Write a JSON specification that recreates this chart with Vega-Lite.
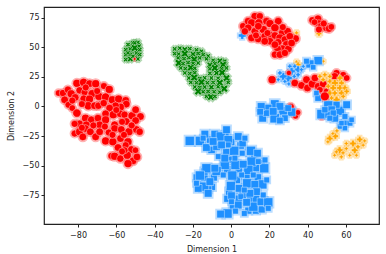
{"$schema":"https://vega.github.io/schema/vega-lite/v6.json","width":335,"height":217,"autosize":{"type":"none"},"padding":{"left":44,"top":7,"right":7,"bottom":30},"background":"white","config":{"view":{"stroke":"#222","strokeWidth":1.2},"font":"DejaVu Sans"},"data":{"values":[
{"a":-53.9,"b":52.3,"g":"C","w":1.2},{"a":-51.3,"b":53.7,"g":"C","w":1.2},{"a":-48.7,"b":54.2,"g":"C","w":1.2},{"a":-55.1,"b":48,"g":"C","w":1.2},{"a":-52.7,"b":48.6,"g":"C","w":1.2},{"a":-50.4,"b":49.4,"g":"C","w":2},{"a":-48.1,"b":50.9,"g":"C","w":1.2},{"a":-55.1,"b":43.8,"g":"C","w":1.2},{"a":-52.7,"b":43.8,"g":"C","w":1.2},{"a":-49.5,"b":45.2,"g":"C","w":1.2},{"a":-47.8,"b":43.8,"g":"C","w":1.2},{"a":-55.1,"b":39.6,"g":"C","w":1.2},{"a":-52.7,"b":40.1,"g":"C","w":1.5},{"a":-48.7,"b":40.1,"g":"C","w":1.2},{"a":-50.4,"b":53.7,"g":"C","w":1.2},{"a":-53.9,"b":45.2,"g":"C","w":1.2},{"a":-51.3,"b":42.4,"g":"C","w":1.2},{"a":-47.8,"b":48,"g":"C","w":1.2},{"a":-50.4,"b":40.1,"g":"A","w":1},
{"a":-29.5,"b":48.6,"g":"C","w":1.2},{"a":-26.8,"b":49.2,"g":"C","w":1.2},{"a":-24.2,"b":48.2,"g":"C","w":1.5},{"a":-21.6,"b":48.8,"g":"C","w":1.2},{"a":-18.1,"b":47.8,"g":"C","w":1.2},{"a":-15.5,"b":46.6,"g":"C","w":1.2},{"a":-29.5,"b":44.6,"g":"C","w":1.2},{"a":-27.4,"b":44.2,"g":"C","w":1.2},{"a":-24.2,"b":44.6,"g":"C","w":2},{"a":-19.9,"b":44.2,"g":"C","w":1.5},{"a":-17.2,"b":44.8,"g":"C","w":1.2},{"a":-14.6,"b":43.8,"g":"C","w":1.2},{"a":-12,"b":42.6,"g":"C","w":1.2},{"a":-27.7,"b":41,"g":"C","w":1.2},{"a":-24.6,"b":40.4,"g":"C","w":1.2},{"a":-22.1,"b":41.2,"g":"C","w":1.2},{"a":-19.3,"b":39.8,"g":"C","w":2},{"a":-16.4,"b":41,"g":"C","w":1.2},{"a":-12.9,"b":40.2,"g":"C","w":1.2},{"a":-9.4,"b":39,"g":"C","w":1.2},{"a":-5.9,"b":38.6,"g":"C","w":1.5},{"a":-3.3,"b":38.2,"g":"C","w":1.2},{"a":-27.4,"b":36.7,"g":"C","w":2},{"a":-25.1,"b":36.2,"g":"C","w":1.2},{"a":-22.5,"b":37,"g":"C","w":1.2},{"a":-19.9,"b":36.4,"g":"C","w":1.2},{"a":-17.2,"b":36.7,"g":"C","w":1.2},{"a":-11.1,"b":35,"g":"C","w":1.5},{"a":-8.5,"b":36.2,"g":"C","w":1.2},{"a":-4.2,"b":35.2,"g":"C","w":1.9},{"a":-26.3,"b":32.5,"g":"C","w":1.2},{"a":-23.9,"b":32,"g":"C","w":1.2},{"a":-21.1,"b":32.8,"g":"C","w":1.9},{"a":-19,"b":32.2,"g":"C","w":1.2},{"a":-11.1,"b":31.8,"g":"C","w":1.2},{"a":-8.5,"b":32.5,"g":"C","w":2},{"a":-5,"b":31.8,"g":"C","w":1.2},{"a":-2.4,"b":32.5,"g":"C","w":1.2},{"a":-24.2,"b":28.3,"g":"C","w":1.2},{"a":-21.6,"b":27.8,"g":"C","w":1.2},{"a":-19,"b":28.5,"g":"C","w":1.2},{"a":-11.1,"b":28,"g":"C","w":1.2},{"a":-7.6,"b":28.3,"g":"C","w":1.5},{"a":-4.7,"b":28.6,"g":"C","w":2},{"a":-22.1,"b":24,"g":"C","w":1.2},{"a":-19.3,"b":24.4,"g":"C","w":2},{"a":-16.4,"b":23.6,"g":"C","w":1.2},{"a":-13.8,"b":24.2,"g":"C","w":1.2},{"a":-10.3,"b":24,"g":"C","w":1.2},{"a":-6.8,"b":23.8,"g":"C","w":1.2},{"a":-2.4,"b":24,"g":"C","w":1.9},{"a":-21.1,"b":20.3,"g":"C","w":1.2},{"a":-18.1,"b":20,"g":"C","w":1.2},{"a":-15.5,"b":20.5,"g":"C","w":2},{"a":-12.4,"b":20,"g":"C","w":1.2},{"a":-9.4,"b":20.3,"g":"C","w":1.2},{"a":-5.9,"b":20,"g":"C","w":2},{"a":-1.5,"b":20.3,"g":"C","w":1.2},{"a":-19,"b":16.4,"g":"C","w":1.2},{"a":-16.4,"b":16,"g":"C","w":1.2},{"a":-13.8,"b":16.4,"g":"C","w":1.2},{"a":-10.3,"b":16.2,"g":"C","w":1.5},{"a":-6.8,"b":16.6,"g":"C","w":1.2},{"a":-3.6,"b":15,"g":"C","w":2},{"a":-17.2,"b":12.7,"g":"C","w":2},{"a":-14.6,"b":12.4,"g":"C","w":1.2},{"a":-12,"b":12.7,"g":"C","w":1.2},{"a":-8.9,"b":12.4,"g":"C","w":1.2},{"a":-5.9,"b":12,"g":"C","w":1.2},{"a":-12.9,"b":8.5,"g":"C","w":1.2},{"a":-10.6,"b":8,"g":"C","w":1.9},{"a":-8.5,"b":8.5,"g":"C","w":1.2},
{"a":-90.2,"b":11.3,"g":"A","w":2.4},{"a":-87.9,"b":11.3,"g":"A","w":2.8},{"a":-85.3,"b":14.1,"g":"A","w":2.8},{"a":-83.6,"b":10.7,"g":"A","w":3.2},{"a":-80.6,"b":19.5,"g":"A","w":3.2},{"a":-77.1,"b":20.3,"g":"A","w":3.4},{"a":-74,"b":19.2,"g":"A","w":3},{"a":-70.8,"b":19.2,"g":"A","w":3.2},{"a":-66.5,"b":17.2,"g":"A","w":2.6},{"a":-63.7,"b":14.4,"g":"A","w":3.2},{"a":-79.2,"b":13.6,"g":"A","w":2.8},{"a":-76.6,"b":11.9,"g":"A","w":2.6},{"a":-72.6,"b":10.7,"g":"A","w":3.4},{"a":-69.1,"b":8.5,"g":"A","w":3.2},{"a":-65.6,"b":7.9,"g":"A","w":3.4},{"a":-81.5,"b":7.6,"g":"A","w":3},{"a":-87,"b":5.6,"g":"A","w":3},{"a":-85,"b":1.4,"g":"A","w":2.6},{"a":-83,"b":-1.4,"g":"A","w":2.4},{"a":-80.6,"b":-5.6,"g":"A","w":3.4},{"a":-77,"b":6.5,"g":"A","w":3},{"a":-74,"b":6.2,"g":"A","w":3.2},{"a":-74.7,"b":0.6,"g":"A","w":3.4},{"a":-71.4,"b":0.6,"g":"A","w":3},{"a":-69.4,"b":0.6,"g":"A","w":2.8},{"a":-66.6,"b":2.8,"g":"A","w":2.8},{"a":-62.1,"b":5.6,"g":"A","w":3.2},{"a":-58.8,"b":6.2,"g":"A","w":3.2},{"a":-55.1,"b":5.1,"g":"A","w":3},{"a":-54.8,"b":2,"g":"A","w":3},{"a":-57.9,"b":-0.6,"g":"A","w":3.2},{"a":-60.4,"b":0.6,"g":"A","w":3},{"a":-63.5,"b":-1.4,"g":"A","w":3},{"a":-65.6,"b":-6.2,"g":"A","w":3},{"a":-61.6,"b":-7,"g":"A","w":3.2},{"a":-57.9,"b":-6.2,"g":"A","w":3},{"a":-55.7,"b":-7,"g":"A","w":2.8},{"a":-51.8,"b":-7.9,"g":"A","w":3.2},{"a":-49.9,"b":-2.8,"g":"A","w":3},{"a":-47.4,"b":-8.5,"g":"A","w":3},{"a":-76.1,"b":-9.9,"g":"A","w":3.2},{"a":-73.1,"b":-11.3,"g":"A","w":3},{"a":-69.6,"b":-9.9,"g":"A","w":3},{"a":-65.6,"b":-11.3,"g":"A","w":3.2},{"a":-68.7,"b":-15.5,"g":"A","w":3},{"a":-79.2,"b":-14.7,"g":"A","w":3},{"a":-81.8,"b":-14.7,"g":"A","w":2.6},{"a":-54.8,"b":-12.7,"g":"A","w":3},{"a":-49.9,"b":-11.9,"g":"A","w":3},{"a":-60.9,"b":-15.5,"g":"A","w":3},{"a":-75.7,"b":-15.5,"g":"A","w":3},{"a":-81.8,"b":-22.9,"g":"A","w":2.6},{"a":-79.2,"b":-21.4,"g":"A","w":3.2},{"a":-76.2,"b":-18.6,"g":"A","w":3},{"a":-73.6,"b":-21.4,"g":"A","w":3},{"a":-70.8,"b":-25.7,"g":"A","w":3},{"a":-68.7,"b":-21.4,"g":"A","w":3},{"a":-65.6,"b":-29.1,"g":"A","w":3.2},{"a":-61.8,"b":-29.9,"g":"A","w":3.2},{"a":-59.1,"b":-34.7,"g":"A","w":3},{"a":-57.8,"b":-27.1,"g":"A","w":3},{"a":-60.9,"b":-18.6,"g":"A","w":3},{"a":-57.4,"b":-19.5,"g":"A","w":3},{"a":-53.4,"b":-21.4,"g":"A","w":3.2},{"a":-49.5,"b":-19.5,"g":"A","w":3},{"a":-47.8,"b":-21.4,"g":"A","w":2.8},{"a":-53.9,"b":-29.9,"g":"A","w":3.2},{"a":-52.2,"b":-36.4,"g":"A","w":3},{"a":-55.1,"b":-32.7,"g":"A","w":2.6},{"a":-62.6,"b":-41.8,"g":"A","w":2.6},{"a":-60.9,"b":-42.1,"g":"A","w":3.2},{"a":-57.9,"b":-44,"g":"A","w":2.8},{"a":-54.3,"b":-41.2,"g":"A","w":3.2},{"a":-51.3,"b":-46,"g":"A","w":3},{"a":-53.9,"b":-48.3,"g":"A","w":3.2},{"a":-49.2,"b":-42.6,"g":"A","w":3},{"a":-55.7,"b":-37,"g":"A","w":2.6},{"a":-77.5,"b":-25.7,"g":"A","w":3},{"a":-83,"b":5,"g":"A","w":2.6},{"a":-78,"b":2,"g":"A","w":2.6},{"a":-70,"b":13,"g":"A","w":2.6},{"a":-76,"b":16,"g":"A","w":2.6},{"a":-60,"b":-3,"g":"A","w":2.6},{"a":-56,"b":-24,"g":"A","w":2.6},{"a":-52,"b":-16,"g":"A","w":2.6},{"a":-64,"b":-22,"g":"A","w":2.6},{"a":-72,"b":-16,"g":"A","w":2.6},{"a":-78,"b":-18,"g":"A","w":2.6},{"a":-66,"b":-17,"g":"A","w":2.6},{"a":-57,"b":-13,"g":"A","w":2.6},{"a":-62,"b":-24,"g":"A","w":2.6},{"a":-57,"b":-38,"g":"A","w":2.6},{"a":-50,"b":-37,"g":"A","w":2.4},
{"a":34.2,"b":62.1,"g":"D","w":1.4},{"a":45.9,"b":61.6,"g":"D","w":1.9},{"a":5.8,"b":59.9,"g":"E","w":3},
{"a":6.3,"b":67.8,"g":"A","w":2.8},{"a":8.9,"b":72,"g":"A","w":3},{"a":12.4,"b":76.2,"g":"A","w":3},{"a":15,"b":76.2,"g":"A","w":2.8},{"a":10.7,"b":70.6,"g":"A","w":3.2},{"a":14.5,"b":70.6,"g":"A","w":3.4},{"a":18.5,"b":72,"g":"A","w":3},{"a":24.6,"b":72,"g":"A","w":3},{"a":20.3,"b":70,"g":"A","w":3.2},{"a":8.9,"b":66.4,"g":"A","w":3},{"a":12.4,"b":63.5,"g":"A","w":3},{"a":16.8,"b":65,"g":"A","w":3.2},{"a":14.2,"b":67.8,"g":"A","w":3},{"a":22.9,"b":66.4,"g":"A","w":3.4},{"a":26.7,"b":62.1,"g":"A","w":3},{"a":29.5,"b":63.5,"g":"A","w":3},{"a":10.7,"b":57.9,"g":"A","w":3},{"a":14.2,"b":57,"g":"A","w":3},{"a":17.6,"b":59.3,"g":"A","w":3},{"a":21.1,"b":59.9,"g":"A","w":3.2},{"a":22.9,"b":59.9,"g":"A","w":3},{"a":25.5,"b":57.9,"g":"A","w":3.2},{"a":28.1,"b":56.5,"g":"A","w":3},{"a":24.6,"b":54.2,"g":"A","w":3},{"a":33.7,"b":57.3,"g":"A","w":3},{"a":30.7,"b":59.3,"g":"A","w":3},{"a":29,"b":52.2,"g":"A","w":3.2},{"a":20.3,"b":55.1,"g":"A","w":3},{"a":17.6,"b":55.1,"g":"A","w":3},{"a":26.7,"b":48.6,"g":"A","w":3.2},{"a":24.3,"b":48.6,"g":"A","w":3},{"a":22.9,"b":43.8,"g":"A","w":2.8},{"a":25.5,"b":43.8,"g":"A","w":3},{"a":29.9,"b":48.6,"g":"A","w":3},{"a":31.6,"b":53.6,"g":"A","w":3},{"a":7.2,"b":63.5,"g":"A","w":2.8},{"a":22.9,"b":52.2,"g":"A","w":3},{"a":28.1,"b":45.2,"g":"A","w":2.8},{"a":19,"b":62,"g":"A","w":2.6},{"a":27,"b":67,"g":"A","w":2.6},{"a":13,"b":60,"g":"A","w":2.6},
{"a":42.4,"b":72.9,"g":"A","w":2.6},{"a":45.4,"b":74,"g":"A","w":3},{"a":45.9,"b":70,"g":"A","w":3},{"a":47.1,"b":67.8,"g":"A","w":3},{"a":49.8,"b":66.4,"g":"A","w":3},{"a":51.2,"b":65.8,"g":"A","w":3},{"a":45.9,"b":65,"g":"A","w":2.6},{"a":43.6,"b":71.2,"g":"A","w":2.4},{"a":48.4,"b":70,"g":"A","w":2.6},{"a":52.4,"b":67.2,"g":"A","w":2.4},
{"a":34.2,"b":37.6,"g":"D","w":1.3},{"a":35,"b":35.3,"g":"D","w":1.9},{"a":48.1,"b":38.2,"g":"D","w":1.3},
{"a":45.5,"b":38.7,"g":"B","w":3.4},{"a":41.2,"b":35.9,"g":"B","w":3.2},{"a":39.4,"b":38.2,"g":"B","w":2},{"a":42.9,"b":33.1,"g":"B","w":1.8},
{"a":30.7,"b":33.9,"g":"E","w":1.6},{"a":33.3,"b":33.9,"g":"E","w":1.6},{"a":35,"b":31.1,"g":"E","w":2.8},{"a":33,"b":25.4,"g":"E","w":1.6},{"a":29.8,"b":24,"g":"E","w":3.2},{"a":27.2,"b":25.4,"g":"E","w":3},{"a":25.5,"b":28.3,"g":"E","w":1.6},{"a":28.1,"b":21.2,"g":"E","w":1.4},{"a":24.6,"b":22.6,"g":"E","w":1.4},{"a":36.8,"b":31.1,"g":"E","w":1.5},{"a":35,"b":26.8,"g":"E","w":1.6},{"a":31.6,"b":29.7,"g":"E","w":2.8},{"a":37.7,"b":33.9,"g":"E","w":1.4},{"a":30.2,"b":19,"g":"E","w":1.4},
{"a":21.4,"b":22.6,"g":"A","w":3.2},{"a":30.2,"b":28.3,"g":"A","w":1.8},{"a":33.3,"b":19.8,"g":"A","w":3},{"a":36.8,"b":17.8,"g":"A","w":3},{"a":39.4,"b":22.6,"g":"A","w":3},{"a":39.9,"b":15.6,"g":"A","w":3},{"a":42.4,"b":19,"g":"A","w":3.2},{"a":45.5,"b":17,"g":"A","w":3},{"a":48.1,"b":19,"g":"A","w":3},{"a":43.8,"b":24,"g":"A","w":3},{"a":46.4,"b":14.1,"g":"A","w":2.4},{"a":49.9,"b":12.7,"g":"A","w":2.4},{"a":55.1,"b":28.3,"g":"A","w":2.6},{"a":54.2,"b":25.4,"g":"A","w":3},{"a":58.6,"b":26.8,"g":"A","w":2.4},{"a":60.4,"b":24,"g":"A","w":2.4},
{"a":46.4,"b":25.4,"g":"D","w":1.6},{"a":49,"b":26.8,"g":"D","w":1.6},{"a":51.6,"b":25.4,"g":"D","w":1.6},{"a":56.9,"b":24,"g":"D","w":2.2},{"a":48.1,"b":22.6,"g":"D","w":1.6},{"a":51.6,"b":21.2,"g":"D","w":1.8},{"a":54.2,"b":19.8,"g":"D","w":2.6},{"a":57.7,"b":19.8,"g":"D","w":2},{"a":50.8,"b":17,"g":"D","w":1.8},{"a":53.4,"b":15.6,"g":"D","w":2.4},{"a":56.9,"b":15.6,"g":"D","w":2.4},{"a":59.5,"b":15.6,"g":"D","w":2},{"a":51.6,"b":11.3,"g":"D","w":2.2},{"a":54.2,"b":11.3,"g":"D","w":2},{"a":57.7,"b":11.3,"g":"D","w":2.2},{"a":60.4,"b":12.7,"g":"D","w":1.8},{"a":55.1,"b":5.7,"g":"D","w":2.6},{"a":52.5,"b":7.1,"g":"D","w":1.6},{"a":58.6,"b":8.5,"g":"D","w":1.6},
{"a":45.5,"b":7.1,"g":"B","w":2.4},{"a":44.6,"b":11.3,"g":"B","w":1.8},{"a":47.3,"b":-8.5,"g":"A","w":2.2},{"a":50.8,"b":0.9,"g":"B","w":4},{"a":47.3,"b":-6.5,"g":"B","w":4.2},{"a":56.9,"b":-3.7,"g":"B","w":4},{"a":60.4,"b":1.4,"g":"B","w":3},{"a":55.1,"b":1.4,"g":"B","w":2.6},{"a":52.5,"b":-2.8,"g":"B","w":3},{"a":50.8,"b":-7,"g":"B","w":2.6},{"a":54.2,"b":-9.9,"g":"B","w":3},{"a":59.5,"b":-14.1,"g":"B","w":2},{"a":56.9,"b":-16.9,"g":"B","w":1.8},{"a":62.1,"b":-14.1,"g":"B","w":2},{"a":59.5,"b":-18.3,"g":"B","w":1.8},{"a":57.7,"b":-14.1,"g":"B","w":1.8},{"a":63,"b":-11.3,"g":"B","w":1.8},{"a":53.4,"b":-5.6,"g":"B","w":2.2},{"a":49,"b":-2.8,"g":"B","w":2.2},{"a":59.5,"b":-8.5,"g":"B","w":2},{"a":51.6,"b":-9.9,"g":"B","w":2},{"a":49,"b":8.5,"g":"A","w":3.8},
{"a":31.1,"b":-0.6,"g":"A","w":3},{"a":32.3,"b":-5.6,"g":"A","w":2.2},{"a":33.7,"b":-8,"g":"A","w":2.2},{"a":34.9,"b":-5.1,"g":"A","w":2},
{"a":22.8,"b":2,"g":"B","w":3.6},{"a":27.2,"b":-3.7,"g":"B","w":3.6},{"a":22.8,"b":-9.9,"g":"B","w":4.2},{"a":31.6,"b":-4.8,"g":"B","w":3.4},{"a":19.3,"b":-1.4,"g":"B","w":3},{"a":16.5,"b":-9.9,"g":"B","w":3},{"a":25.5,"b":0,"g":"B","w":3},{"a":28.1,"b":-9.9,"g":"B","w":2.4},{"a":18.5,"b":-5.6,"g":"B","w":2.4},{"a":25.5,"b":-11.9,"g":"B","w":2.4},{"a":29.8,"b":-1.4,"g":"B","w":2.4},{"a":22,"b":-4.2,"g":"B","w":3},{"a":15.7,"b":0,"g":"B","w":3},{"a":15.2,"b":-4.5,"g":"B","w":2.4},
{"a":51.5,"b":-27.1,"g":"D","w":2.4},{"a":54.5,"b":-25.1,"g":"D","w":2.2},{"a":53.2,"b":-22.9,"g":"D","w":1.3},{"a":55.3,"b":-20.6,"g":"D","w":1.4},{"a":50.6,"b":-29.9,"g":"D","w":1.3},{"a":56.7,"b":-37,"g":"D","w":2.6},{"a":58.5,"b":-39.2,"g":"D","w":1.4},{"a":55,"b":-38.4,"g":"D","w":1.4},{"a":60.2,"b":-35.6,"g":"D","w":1.4},{"a":57.6,"b":-42.6,"g":"D","w":1.4},{"a":54.1,"b":-41.2,"g":"D","w":1.3},{"a":64.6,"b":-37,"g":"D","w":2.4},{"a":63.7,"b":-31.3,"g":"D","w":2.4},{"a":67.2,"b":-27.9,"g":"D","w":2.2},{"a":69.8,"b":-29.1,"g":"D","w":1.3},{"a":62,"b":-41.2,"g":"D","w":1.3},{"a":65.5,"b":-41.2,"g":"D","w":1.3},{"a":69,"b":-32.7,"g":"D","w":1.3},{"a":60.2,"b":-31.3,"g":"D","w":1.4},{"a":66.3,"b":-34.1,"g":"D","w":1.6},
{"a":-10.2,"b":-36.7,"g":"B","w":2.8},{"a":-1,"b":-45,"g":"B","w":2.8},{"a":5,"b":-33,"g":"B","w":2.8},{"a":12,"b":-43,"g":"B","w":2.8},{"a":16,"b":-48,"g":"B","w":2.8},{"a":-9,"b":-60,"g":"B","w":2.6},{"a":-2,"b":-53,"g":"B","w":2.8},{"a":4,"b":-53,"g":"B","w":2.8},{"a":13,"b":-52,"g":"B","w":2.8},{"a":-14,"b":-60,"g":"B","w":2.8},{"a":-18,"b":-60,"g":"B","w":2.6},{"a":-10,"b":-68,"g":"B","w":2.6},{"a":3,"b":-62,"g":"B","w":2.8},{"a":8,"b":-58,"g":"B","w":2.8},{"a":14,"b":-60,"g":"B","w":2.8},{"a":6,"b":-75,"g":"B","w":2.8},{"a":10,"b":-78,"g":"B","w":2.8},{"a":13,"b":-78,"g":"B","w":2.8},{"a":-1,"b":-72,"g":"B","w":2.8},{"a":-2,"b":-78,"g":"B","w":2.6},{"a":4,"b":-78,"g":"B","w":2.8},{"a":17,"b":-80,"g":"B","w":2.8},{"a":1,"b":-86,"g":"B","w":2.8},{"a":-14,"b":-55,"g":"B","w":2.8},{"a":-12,"b":-70,"g":"B","w":2.6},{"a":9,"b":-88,"g":"B","w":2.6},{"a":13,"b":-88,"g":"B","w":2.6},{"a":16,"b":-87,"g":"B","w":2.6},{"a":-3,"b":-24,"g":"B","w":2.8},{"a":0,"b":-30,"g":"B","w":2.8},{"a":6,"b":-31,"g":"B","w":2.8},{"a":-11,"b":-28,"g":"B","w":2.8},
{"a":-21.6,"b":-29.1,"g":"B","w":4},{"a":-16.3,"b":-29.1,"g":"B","w":4},{"a":-12.9,"b":-34.7,"g":"B","w":3},{"a":-13.7,"b":-23.4,"g":"B","w":3},{"a":-8.5,"b":-23.4,"g":"B","w":3},{"a":-5.4,"b":-25.4,"g":"B","w":4},{"a":-1.5,"b":-28.2,"g":"B","w":3.6},{"a":-2.4,"b":-19.7,"g":"B","w":3},{"a":3.7,"b":-25.4,"g":"B","w":3},{"a":7.2,"b":-26.8,"g":"B","w":2},{"a":-7.6,"b":-33.9,"g":"B","w":3},{"a":-2.4,"b":-38.7,"g":"B","w":3},{"a":1.6,"b":-37.5,"g":"B","w":4},{"a":10.4,"b":-37.5,"g":"B","w":4},{"a":5.8,"b":-39.5,"g":"B","w":2},{"a":13.8,"b":-39.5,"g":"B","w":3},{"a":10.7,"b":-46.6,"g":"B","w":4},{"a":17.7,"b":-45.2,"g":"B","w":2},{"a":17.3,"b":-52.2,"g":"B","w":4},{"a":9,"b":-53.6,"g":"B","w":4},{"a":-3.3,"b":-49.4,"g":"B","w":4},{"a":2.3,"b":-49.4,"g":"B","w":4},{"a":6.3,"b":-48.8,"g":"B","w":3},{"a":-6.7,"b":-42.3,"g":"B","w":2},{"a":-3.3,"b":-43.7,"g":"B","w":3},{"a":-12.9,"b":-52.2,"g":"B","w":4},{"a":-7.6,"b":-54.5,"g":"B","w":4},{"a":0.6,"b":-58.4,"g":"B","w":4},{"a":-4.1,"b":-57.9,"g":"B","w":2},{"a":-16.3,"b":-58.4,"g":"B","w":4},{"a":-14.1,"b":-67.8,"g":"B","w":4},{"a":-17.2,"b":-69.2,"g":"B","w":3},{"a":-12,"b":-73.4,"g":"B","w":3},{"a":-11.1,"b":-63.5,"g":"B","w":3},{"a":-0.1,"b":-67.2,"g":"B","w":4},{"a":4.2,"b":-69.2,"g":"B","w":3},{"a":8.4,"b":-64.9,"g":"B","w":4},{"a":16.3,"b":-65.8,"g":"B","w":4},{"a":18.6,"b":-62.1,"g":"B","w":2},{"a":12.4,"b":-65.8,"g":"B","w":3},{"a":13.3,"b":-72,"g":"B","w":3},{"a":9.8,"b":-73.4,"g":"B","w":3},{"a":5.1,"b":-76.2,"g":"B","w":2},{"a":0.2,"b":-75.4,"g":"B","w":3},{"a":3.7,"b":-83.3,"g":"B","w":3},{"a":11.6,"b":-84.7,"g":"B","w":4},{"a":15.6,"b":-80.5,"g":"B","w":3},{"a":19.4,"b":-81,"g":"B","w":4},{"a":19.4,"b":-86.1,"g":"B","w":2},{"a":6.9,"b":-90.4,"g":"B","w":2},{"a":2.3,"b":-88.4,"g":"B","w":2},{"a":-1.9,"b":-90.4,"g":"B","w":4},{"a":-5.5,"b":-90.9,"g":"B","w":3},{"a":8.1,"b":-81,"g":"B","w":3},{"a":0.2,"b":-80.5,"g":"B","w":2},{"a":-18.1,"b":-64.9,"g":"B","w":2},{"a":-8.5,"b":-52.2,"g":"B","w":3},{"a":5.5,"b":-57.9,"g":"B","w":2},{"a":-1.5,"b":-32.5,"g":"B","w":2},{"a":-14.6,"b":-26.8,"g":"B","w":2},{"a":-9.4,"b":-29.6,"g":"B","w":3},{"a":-5,"b":-32.5,"g":"B","w":3},{"a":2,"b":-43.7,"g":"B","w":2},{"a":14.2,"b":-46.6,"g":"B","w":2},{"a":11.6,"b":-57.9,"g":"B","w":2},{"a":6.9,"b":-70.6,"g":"B","w":2},{"a":16.8,"b":-74.8,"g":"B","w":2}
]},"encoding":{"x":{"field":"a","type":"quantitative","scale":{"domain":[-97.8,77.3],"nice":false,"zero":false},"axis":{"values":[-80,-60,-40,-20,0,20,40,60],"title":"Dimension 1","grid":false,"domain":false,"tickColor":"#222","tickSize":3,"labelFontSize":8,"labelColor":"#222","labelPadding":4,"titleFontSize":8,"titleFontWeight":"normal","titleColor":"#222","titlePadding":6}},"y":{"field":"b","type":"quantitative","scale":{"domain":[-99.3,84],"nice":false,"zero":false},"axis":{"values":[-75,-50,-25,0,25,50,75],"title":"Dimension 2","grid":false,"domain":false,"tickColor":"#222","tickSize":3,"labelFontSize":8,"labelColor":"#222","labelPadding":2,"titleFontSize":8,"titleFontWeight":"normal","titleColor":"#222","titlePadding":7}},"shape":{"field":"g","type":"nominal","legend":null,"scale":{"domain":["A","B","C","D","E"],"range":["circle","square","M-1.3,-0.65 L-0.65,-1.3 L0,-0.65 L0.65,-1.3 L1.3,-0.65 L0.65,0 L1.3,0.65 L0.65,1.3 L0,0.65 L-0.65,1.3 L-1.3,0.65 L-0.65,0 Z","cross","cross"]}},"size":{"field":"w","type":"quantitative","legend":null,"scale":{"type":"linear","domain":[1,5],"range":[8,110]}},"fill":{"field":"g","type":"nominal","legend":null,"scale":{"domain":["A","B","C","D","E"],"range":["#ff0000","#1e90ff","#008000","#ffa500","#1e90ff"]}}},"layer":[{"mark":{"type":"point","filled":true,"opacity":0.3,"strokeWidth":3},"encoding":{"stroke":{"field":"g","type":"nominal","legend":null,"scale":{"domain":["A","B","C","D","E"],"range":["#ff0000","#1e90ff","#008000","#ffa500","#1e90ff"]}}}},{"mark":{"type":"point","filled":true,"opacity":1,"stroke":"#ffffff","strokeWidth":0.4}}]}
